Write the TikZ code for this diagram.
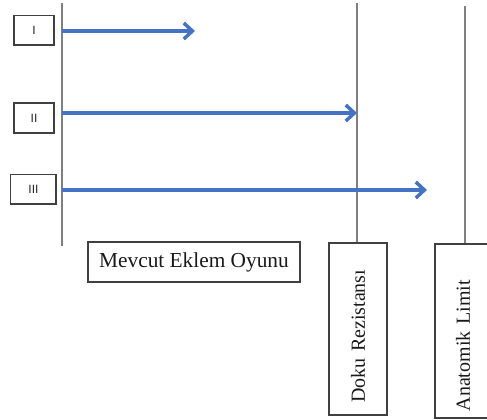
\documentclass[tikz,border=0pt]{standalone}
\usepackage{fontspec}
\setmainfont{Liberation Serif}
\newfontfamily\numfont{Liberation Sans}
\usetikzlibrary{arrows.meta, positioning}

\definecolor{arrblue}{HTML}{4472C4}
\definecolor{linegray}{HTML}{7F7F7F}
\definecolor{boxgray}{HTML}{404040}

\tikzset{
    vline/.style={draw=linegray, line width=1.4pt},
    arr/.style={draw=arrblue, line width=2.6pt,
        -{Straight Barb[length=6.5pt,width=12pt]}},
    numbox/.style={draw=boxgray, line width=1pt, inner sep=0pt,
        font=\numfont\fontsize{9}{11}\selectfont, text=black!85},
    labbox/.style={draw=boxgray, line width=1pt, inner sep=0pt,
        font=\fontsize{16}{19}\selectfont, text=black!90},
    vbox/.style={draw=boxgray, line width=1pt, rotate=90, inner ysep=0pt,
        align=left, font=\fontsize{15}{18}\selectfont, text=black!90}
}

\begin{document}
\begin{tikzpicture}[x=0.75pt, y=-0.75pt]
    \clip (0,0) rectangle (487,420);

    % Basamaklar
    \node[numbox, minimum width=30pt, minimum height=22pt] (n1) at (34,30.5) {I};
    \node[numbox, minimum width=30pt, minimum height=22.5pt] (n2) at (34,118) {II};
    \node[numbox, minimum width=34pt, minimum height=22pt] (n3) at (33.5,189.5) {III};

    % Alt kutular
    \node[labbox, minimum width=159pt, minimum height=30pt] (oyun) at (194,262) {Mevcut Eklem Oyunu};
    \node[vbox, minimum height=43.5pt, inner xsep=9pt, text width=111pt] (doku) at (358,329) {Doku Rezistansı};
    \node[vbox, minimum height=42pt, inner xsep=5pt, text width=120.5pt] (anat) at (463,331) {Anatomik Limit};

    % Dikey çizgiler
    \coordinate (top1) at (62,3);
    \coordinate (bot1) at (62,246);
    \coordinate (top2) at (357,3);
    \coordinate (top3) at (465,6);
    \draw[vline] (top1) -- (bot1);
    \draw[vline] (top2) -- (top2 |- doku.east);
    \draw[vline] (top3) -- (top3 |- anat.east);

    % Oklar
    \coordinate (s1) at (62,31);
    \coordinate (e1) at (195,31);
    \coordinate (s2) at (62,113);
    \coordinate (e2) at (357,113);
    \coordinate (s3) at (62,190);
    \coordinate (e3) at (427,190);
    \draw[arr] (s1) -- (e1);
    \draw[arr] (s2) -- (e2);
    \draw[arr] (s3) -- (e3);
\end{tikzpicture}
\end{document}
